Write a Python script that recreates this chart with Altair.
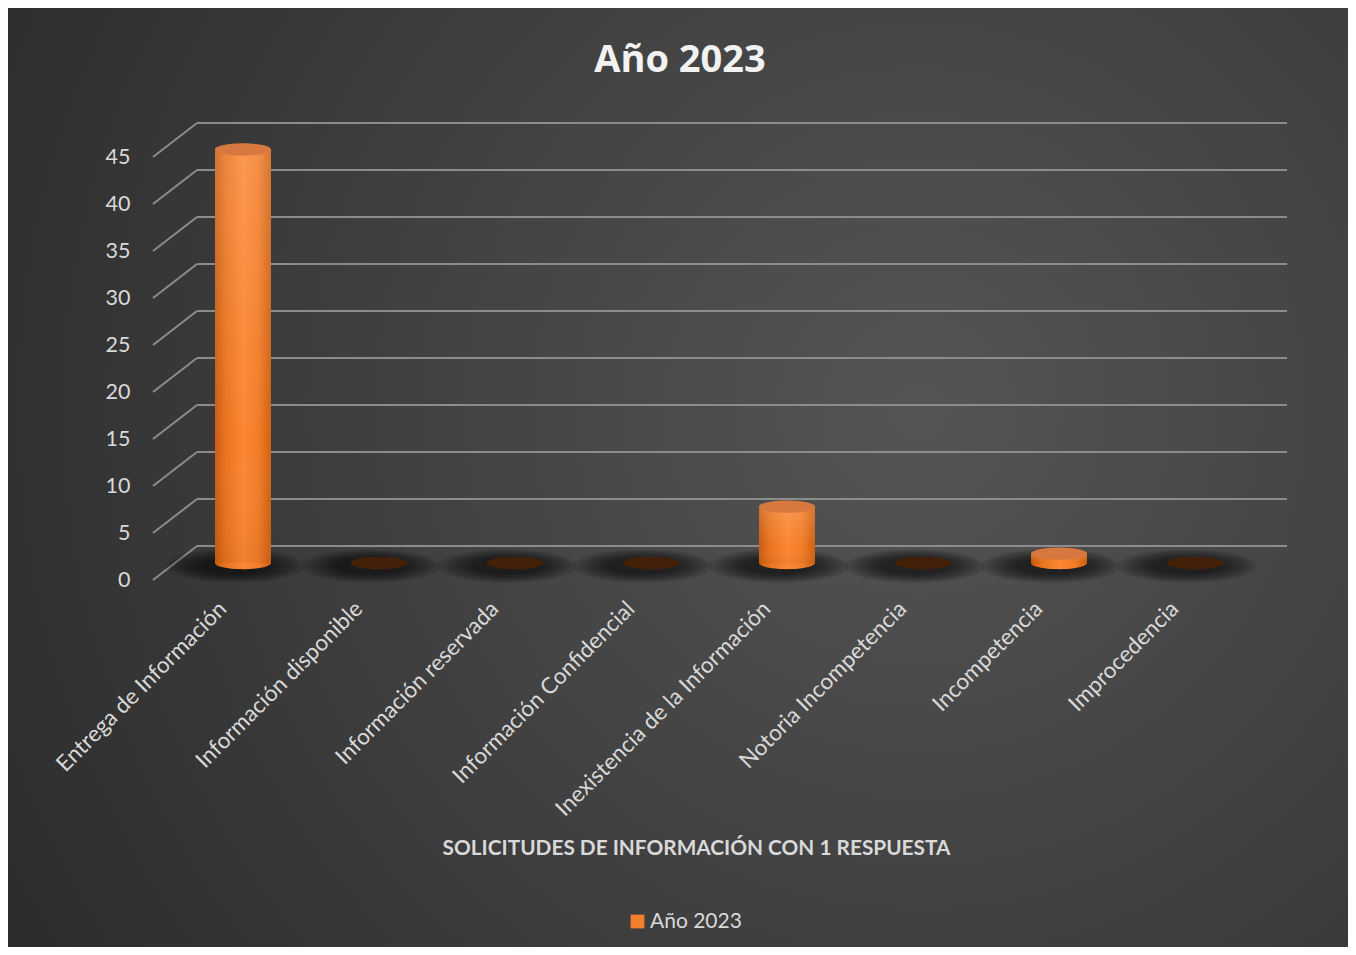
import altair as alt
import pandas as pd

categorias = ["Entrega de Información", "Información disponible", "Información reservada",
              "Información Confidencial", "Inexistencia de la Información", "Notoria Incompetencia",
              "Incompetencia", "Improcedencia"]
valores = [44, 0, 0, 0, 6, 0, 1, 0]
ticks = [0, 5, 10, 15, 20, 25, 30, 35, 40, 45]
serie = "Año 2023"
titulo = "Año 2023"
titulo_x = "SOLICITUDES DE INFORMACIÓN CON 1 RESPUESTA"

df = pd.DataFrame({"cat": categorias, "v": valores, "cero": [0] * len(valores), "serie": [serie] * len(valores)})
dt = pd.DataFrame({"t": ticks})
dbg = pd.DataFrame({"k": [0]})

W, H = 1088, 423
PL, PT = 145, 149
PR = 1340 - PL - W
PB = 939 - PT - H
DX, DY = 44, 34        # depth shift of back wall
MX, MY = 22, 17        # middle depth (bars)

FONT = "Lato"
ysc = alt.Scale(domain=[0, 45], nice=False, zero=True)
xsc = alt.Scale(domain=categorias, paddingInner=0, paddingOuter=0)

yaxis = alt.Axis(values=ticks, domain=False, ticks=False, grid=False, zindex=2,
                 labelFont=FONT, labelFontSize=21.5, labelColor="#d9d9d9",
                 labelPadding=23, title=None)
xaxis = alt.Axis(domain=False, ticks=False, grid=False, zindex=2, labelAngle=-45, labelAlign="right",
                 labelBaseline="middle", labelFont=FONT, labelFontSize=22.5,
                 labelColor="#d9d9d9", labelPadding=25, labelOffset=2, labelLimit=400,
                 title=titulo_x, titleFont=FONT, titleFontSize=20.8, titleFontWeight="bold",
                 titleColor="#d9d9d9", titleX=543, titleY=268, titleBaseline="middle",
                 titleAnchor="middle", titleAlign="center")


def Y(f):
    return alt.Y(f, scale=ysc, axis=yaxis, title=None)


X = alt.X("cat:N", scale=xsc, sort=categorias, axis=xaxis, title=titulo_x)

ELL = "M-1,0A1,0.22,0,1,1,1,0A1,0.22,0,1,1,-1,0Z"
SHD = "M-1,0A1,0.24,0,1,1,1,0A1,0.24,0,1,1,-1,0Z"

bg = alt.Chart(dbg).mark_rect(
    fill=alt.Gradient(gradient="radial", x1=0.68, y1=0.45, r1=0, x2=0.68, y2=0.45, r2=0.8,
                      stops=[alt.GradientStop(color="#555555", offset=0),
                             alt.GradientStop(color="#2b2b2b", offset=1)])
).encode(x=alt.value(-PL), x2=alt.value(W + PR), y=alt.value(-PT), y2=alt.value(H + PB))

diag = alt.Chart(dt).mark_rule(color="#8c8c8c", strokeWidth=2, y2Offset=-DY).encode(
    x=alt.value(0), x2=alt.value(DX), y=Y("t:Q"), y2="t:Q")

back = alt.Chart(dt).mark_rule(color="#8c8c8c", strokeWidth=2, yOffset=-DY).encode(
    x=alt.value(DX), x2=alt.value(W + 46), y=Y("t:Q"))

shadows = []
for w in [140, 130, 120, 110, 100, 90, 80, 70]:
    shadows.append(alt.Chart(df).mark_point(shape=SHD, size=w * w, filled=True, fill="#000000", opacity=0.09,
                                            strokeWidth=0, xOffset=MX - 8, yOffset=-MY + 3).encode(
        x=X, y=Y("cero:Q")))

cyl = alt.Gradient(gradient="linear", x1=0, x2=1, y1=0, y2=0,
                   stops=[alt.GradientStop(color="#c95d12", offset=0),
                          alt.GradientStop(color="#ea741f", offset=0.2),
                          alt.GradientStop(color="#fb8734", offset=0.5),
                          alt.GradientStop(color="#f27c28", offset=0.78),
                          alt.GradientStop(color="#cc6212", offset=1)])

pos = alt.Chart(df).transform_filter("datum.v > 0")
zer = alt.Chart(df).transform_filter("datum.v == 0")

bottom = pos.mark_point(shape=ELL, size=56 * 56, filled=True, fill=cyl, opacity=1, strokeWidth=0,
                        xOffset=MX, yOffset=-MY).encode(x=X, y=Y("cero:Q"))
bars = pos.mark_bar(width=56, fill=cyl, xOffset=MX, yOffset=-MY, y2Offset=-MY).encode(
    x=X, y=Y("v:Q"), y2="cero:Q")
shine = pos.mark_bar(width=56, xOffset=MX, yOffset=-MY, y2Offset=-MY,
                     fill=alt.Gradient(gradient="linear", x1=0, x2=0, y1=0, y2=1,
                                       stops=[alt.GradientStop(color="rgba(255,255,255,0.14)", offset=0),
                                              alt.GradientStop(color="rgba(255,255,255,0)", offset=0.7),
                                              alt.GradientStop(color="rgba(0,0,0,0.05)", offset=1)])).encode(
    x=X, y=Y("v:Q"), y2="cero:Q")
top = pos.mark_point(shape=ELL, size=56 * 56, filled=True, fill="#d6783f", opacity=1, strokeWidth=0,
                     xOffset=MX, yOffset=-MY).encode(x=X, y=Y("v:Q"))
zeros = zer.mark_point(shape=ELL, size=57 * 57, filled=True, fill="#432109", opacity=1, strokeWidth=0,
                       xOffset=MX, yOffset=-MY).encode(x=X, y=Y("cero:Q"))

leg = alt.Chart(df).mark_point(opacity=0, filled=True).encode(
    x=X, y=Y("cero:Q"),
    color=alt.Color("serie:N", scale=alt.Scale(domain=[serie], range=["#f07f2e"]),
                    legend=alt.Legend(title=None, orient="none", legendX=474, legendY=754,
                                      symbolType="square", symbolSize=190, symbolOpacity=1,
                                      symbolStrokeWidth=0, labelFont=FONT, labelFontSize=21,
                                      labelColor="#d9d9d9", labelOffset=2)))

chart = alt.layer(bg, diag, back, *shadows, bottom, bars, shine, top, zeros, leg).properties(
    width=W, height=H,
    padding={"left": PL, "top": PT, "right": PR, "bottom": PB},
    autosize=alt.AutoSizeParams(type="none"),
    background="#3a3a3a",
    title=alt.TitleParams(text=titulo, font="Open Sans", fontSize=38, fontWeight="bold", color="#f2f2f2",
                          anchor="middle", frame="group", dx=-17, offset=-91, baseline="middle"),
).configure_view(stroke=None)

chart.save("out.html", embed_options={"renderer": "svg", "actions": False})
